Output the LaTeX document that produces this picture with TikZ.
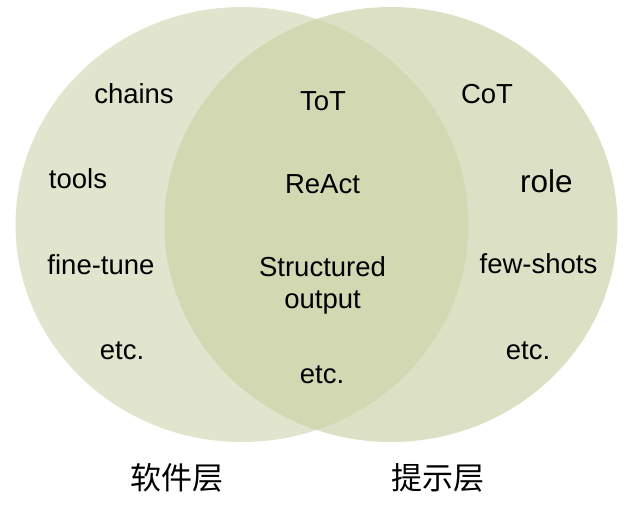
\documentclass[tikz,border=0pt]{standalone}
\usepackage{fontspec}
\setmainfont{Liberation Sans}
\newfontfamily\cjk{Noto Sans CJK SC}
\definecolor{swfill}{RGB}{226,229,205}
\definecolor{prfill}{RGB}{220,224,196}
\definecolor{bothfill}{RGB}{210,216,178}
\begin{document}
\begin{tikzpicture}[x=1pt,y=-1pt,
  lbl/.style={anchor=base, inner sep=0pt, font=\fontsize{27.5}{32}\selectfont},
  layer/.style={inner sep=0pt, font=\cjk\fontsize{31}{36}\selectfont}]
\useasboundingbox (0,0) rectangle (631,517);
% the two layers
\fill[swfill] (242,224.5) ellipse [x radius=226.5, y radius=217.5];
\fill[prfill] (391,224.5) ellipse [x radius=226.5, y radius=217.5];
\begin{scope}
  \clip (242,224.5) ellipse [x radius=226.5, y radius=217.5];
  \fill[bothfill] (391,224.5) ellipse [x radius=226.5, y radius=217.5];
\end{scope}
% software layer
\node[lbl] (chains) at (134,103) {chains};
\node[lbl] (tools) at (78,188) {tools};
\node[lbl] (finetune) at (101,274) {fine-tune};
\node[lbl] (etcsw) at (122,359) {etc.};
% both
\node[lbl] (tot) at (323,110) {ToT};
\node[lbl] (react) at (322.5,193) {ReAct};
\node[lbl, align=center] (structured) at (322.5,308) {Structured\\output};
\node[lbl] (etcmid) at (322,383) {etc.};
% prompt layer
\node[lbl] (cot) at (487,103) {CoT};
\node[lbl, font=\fontsize{31.5}{36}\selectfont] (role) at (546.5,192) {role};
\node[lbl] (fewshots) at (538.5,273) {few-shots};
\node[lbl] (etcpr) at (528,359) {etc.};
% layer names
\node[layer] (sw) at (177,478) {软件层};
\node[layer] (pr) at (437.5,478) {提示层};
\end{tikzpicture}
\end{document}
